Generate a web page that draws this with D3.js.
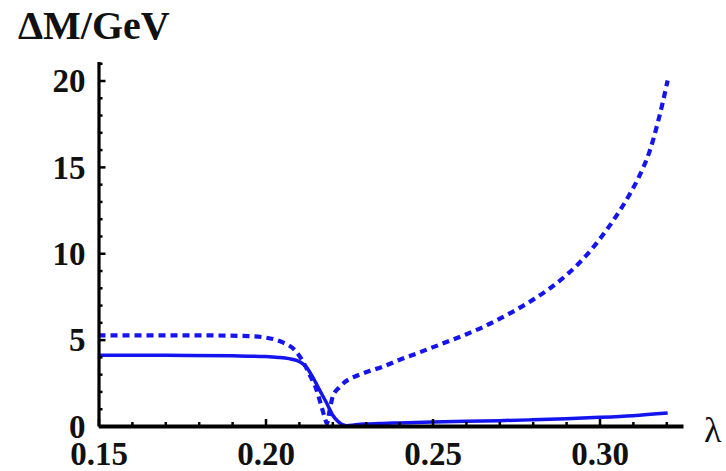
<!DOCTYPE html>
<html>
<head>
<meta charset="utf-8">
<script src="https://cdn.jsdelivr.net/npm/d3@7/dist/d3.min.js"></script>
<style>
  html, body { margin: 0; padding: 0; background: #fff; }
  svg { display: block; }
  .tick text, .lbl { font-family: "Liberation Serif", "Times New Roman", serif; font-weight: bold; fill: #111; }
</style>
</head>
<body>
<svg id="chart" width="726" height="471"></svg>
<script>
// Mass splitting versus coupling: dashed and solid branches
const lambdaDashed = [0.150, 0.170, 0.185, 0.195, 0.200, 0.205, 0.209, 0.211, 0.213, 0.2153, 0.2168, 0.2178, 0.2184,
  0.2192, 0.2201, 0.2222, 0.2251, 0.2275, 0.2311, 0.235, 0.240, 0.245, 0.250, 0.255, 0.260, 0.265, 0.270, 0.275,
  0.280, 0.285, 0.290, 0.295, 0.300, 0.305, 0.309, 0.312, 0.315, 0.3171, 0.3189, 0.3204];
const dmDashed = [5.25, 5.25, 5.24, 5.20, 5.12, 4.85, 4.35, 3.80, 3.05, 2.08, 1.10, 0.45, 0.15,
  0.90, 1.68, 2.26, 2.72, 2.92, 3.18, 3.42, 3.82, 4.18, 4.55, 4.92, 5.30, 5.72, 6.20, 6.72,
  7.30, 7.95, 8.72, 9.65, 10.8, 12.15, 13.4, 14.5, 15.9, 17.3, 18.7, 20.0];

const lambdaSolid = [0.150, 0.170, 0.190, 0.200, 0.204, 0.207, 0.2093, 0.2112, 0.2123, 0.2141, 0.2162, 0.2183,
  0.2201, 0.2215, 0.2228, 0.2243, 0.227, 0.230, 0.235, 0.240, 0.250, 0.260, 0.270, 0.280, 0.290, 0.300, 0.310, 0.3204];
const dmSolid = [4.10, 4.09, 4.06, 4.02, 3.97, 3.90, 3.80, 3.60, 3.40, 2.84, 2.08, 1.33,
  0.64, 0.30, 0.10, 0.02, 0.07, 0.11, 0.15, 0.18, 0.23, 0.27, 0.31, 0.36, 0.42, 0.50, 0.60, 0.75];

const xMajorTicks = [0.15, 0.20, 0.25, 0.30];
const xMinorTicks = [0.16, 0.17, 0.18, 0.19, 0.21, 0.22, 0.23, 0.24, 0.26, 0.27, 0.28, 0.29, 0.31, 0.32];
const yMajorTicks = [0, 5, 10, 15, 20];
const yMinorTicks = [1, 2, 3, 4, 6, 7, 8, 9, 11, 12, 13, 14, 16, 17, 18, 19, 21];

const svg = d3.select("#chart");
const x = d3.scaleLinear().domain([0.15, 0.325]).range([98.5, 683]);
const y = d3.scaleLinear().domain([0, 21.1]).range([426, 61.5]);

const blue = "#1414ee";
const line = d3.line().x(d => x(d[0])).y(d => y(d[1])).curve(d3.curveMonotoneX);

svg.append("path")
  .datum(d3.zip(lambdaSolid, dmSolid))
  .attr("d", line)
  .attr("fill", "none").attr("stroke", blue).attr("stroke-width", 3.5);

svg.append("path")
  .datum(d3.zip(lambdaDashed, dmDashed))
  .attr("d", line)
  .attr("fill", "none").attr("stroke", blue).attr("stroke-width", 4.2)
  .attr("stroke-dasharray", "7,5");

// Axes with inward-pointing ticks
const fmtX = d3.format(".2f");
const gx = svg.append("g").attr("transform", `translate(0,${y(0)})`);
gx.call(d3.axisBottom(x).tickValues(xMajorTicks).tickFormat(fmtX)
  .tickSizeInner(-7).tickSizeOuter(0).tickPadding(15.5));
gx.append("g").call(d3.axisBottom(x).tickValues(xMinorTicks).tickFormat("")
  .tickSizeInner(-4).tickSizeOuter(0))
  .select(".domain").remove();

const gy = svg.append("g").attr("transform", `translate(${x(0.15)},0)`);
gy.call(d3.axisLeft(y).tickValues(yMajorTicks).tickFormat(d3.format("d"))
  .tickSizeInner(-7).tickSizeOuter(0).tickPadding(13));
gy.append("g").call(d3.axisLeft(y).tickValues(yMinorTicks).tickFormat("")
  .tickSizeInner(-4).tickSizeOuter(0))
  .select(".domain").remove();

svg.selectAll(".domain").attr("stroke", "#000");
gx.select(".domain").attr("stroke-width", 4);
gy.select(".domain").attr("stroke-width", 3.2);
svg.selectAll(".tick line").attr("stroke", "#000").attr("stroke-width", 2.5);
svg.selectAll(".tick text").attr("font-size", 33).attr("fill", "#111");
gy.selectAll(".tick text").attr("dy", "0.34em");

svg.append("text").attr("class", "lbl")
  .attr("x", 18).attr("y", 39).attr("font-size", 40)
  .text("ΔM/GeV");

svg.append("text")
  .attr("x", 704).attr("y", 442)
  .attr("font-family", "'Liberation Serif', 'Times New Roman', serif")
  .attr("font-size", 36).attr("fill", "#111")
  .text("λ");
</script>
</body>
</html>
